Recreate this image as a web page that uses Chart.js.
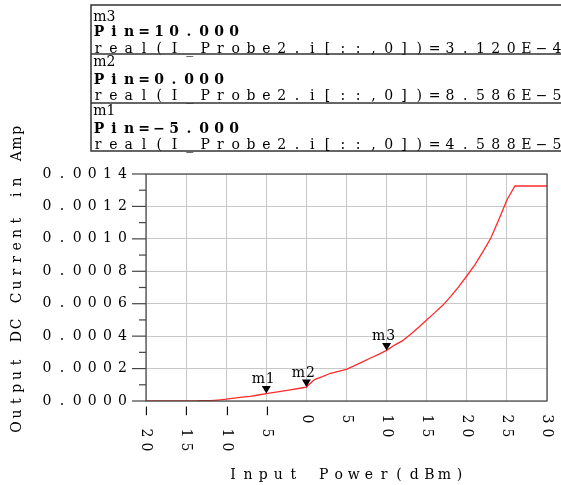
<!DOCTYPE html>
<html>
<head>
<meta charset="utf-8">
<script src="https://cdn.jsdelivr.net/npm/chart.js@4/dist/chart.umd.min.js"></script>
<style>
  html, body { margin: 0; padding: 0; background: #fff; }
  #chart { display: block; }
</style>
</head>
<body>
<canvas id="chart" width="561" height="485"></canvas>
<script>
// Input power sweep (dBm) and the DC current (A)
const inputPower = [-20, -13, -12, -11, -10, -9, -8, -7, -6, -5, -4, -3, -2, -1, 0,
  1, 2, 3, 4, 5, 6, 7, 8, 9, 10, 11, 12, 13, 14, 15, 16, 17, 18, 19, 20,
  21, 22, 23, 24, 25, 26, 30];
const outputCurrent = [0, 0, 2e-6, 6e-6, 1.1e-5, 1.8e-5, 2.4e-5, 2.9e-5, 3.7e-5, 4.588e-5,
  5.3e-5, 6.1e-5, 6.9e-5, 7.7e-5, 8.586e-5,
  1.32e-4, 1.5e-4, 1.71e-4, 1.83e-4, 1.95e-4, 2.18e-4, 2.41e-4, 2.65e-4, 2.88e-4, 3.12e-4,
  3.45e-4, 3.72e-4, 4.12e-4, 4.55e-4, 5.0e-4, 5.45e-4, 5.9e-4, 6.45e-4, 7.05e-4, 7.71e-4,
  8.4e-4, 9.2e-4, 1.005e-3, 1.12e-3, 1.24e-3, 1.326e-3, 1.326e-3];

// short darker trace lying on the zero line
const offPower = [-13.5, -11.6];
const offCurrent = [0, 0];

// Markers
const markerNames = ['m1', 'm2', 'm3'];
const markerPower = [-5, 0, 10];
const markerCurrent = [4.588e-5, 8.586e-5, 3.120e-4];

const xTitle = 'Input Power(dBm)';
const yTitle = 'Output DC Current in Amp';

const FONT = '"DejaVu Serif", serif';

// show a real minus sign instead of a hyphen
function minus(s) {
  return s.replace(/-/g, '\u2212');
}

// Draw a string one char at a time at a fixed pitch (first char centred at x)
function drawSpaced(ctx, text, x, y, pitch) {
  ctx.textAlign = 'center';
  for (let i = 0; i < text.length; i++) {
    ctx.fillText(text[i], x + i * pitch, y);
  }
}

// Axis frame, ticks, labels, markers and the marker readout box
const decorPlugin = {
  id: 'decor',
  afterDatasetsDraw(chart) {
    const ctx = chart.ctx;
    const area = chart.chartArea;
    const xs = chart.scales.x;
    const ys = chart.scales.y;

    ctx.save();
    // frame
    ctx.strokeStyle = '#444';
    ctx.lineWidth = 1.2;
    ctx.strokeRect(area.left, area.top, area.right - area.left, area.bottom - area.top);

    // y ticks (major + minor) and labels
    ctx.fillStyle = '#000';
    ctx.font = '14px ' + FONT;
    ctx.textBaseline = 'middle';
    ys.ticks.forEach((t, i) => {
      const py = ys.getPixelForValue(t.value);
      ctx.beginPath();
      ctx.moveTo(area.left - 14, py);
      ctx.lineTo(area.left, py);
      ctx.stroke();
      drawSpaced(ctx, t.value.toFixed(4), 47, py, 15.1);
      if (i < ys.ticks.length - 1) {
        const mid = ys.getPixelForValue((t.value + ys.ticks[i + 1].value) / 2);
        ctx.beginPath();
        ctx.moveTo(area.left - 7, mid);
        ctx.lineTo(area.left, mid);
        ctx.stroke();
      }
    });

    // x tick labels, rotated clockwise
    xs.ticks.forEach(t => {
      const px = xs.getPixelForValue(t.value);
      const label = String(t.value);
      ctx.save();
      ctx.translate(px, 0);
      ctx.rotate(Math.PI / 2);
      ctx.textBaseline = 'middle';
      ctx.textAlign = 'center';
      if (label[0] === '-') {
        ctx.fillText('\u2212', 411, 0);
        drawSpaced(ctx, label.slice(1), 433, 0, 14);
      } else {
        drawSpaced(ctx, label, 419, 0, 14);
      }
      ctx.restore();
    });

    // axis titles
    drawSpaced(ctx, xTitle, 233, 475, 15.1);
    ctx.save();
    ctx.translate(17, 427);
    ctx.rotate(-Math.PI / 2);
    drawSpaced(ctx, yTitle, 0, 0, 12.9);
    ctx.restore();

    // markers on the curve
    markerNames.forEach((name, i) => {
      const px = xs.getPixelForValue(markerPower[i]);
      const py = ys.getPixelForValue(markerCurrent[i]);
      ctx.beginPath();
      ctx.moveTo(px, py);
      ctx.lineTo(px - 4.5, py - 7.5);
      ctx.lineTo(px + 4.5, py - 7.5);
      ctx.closePath();
      ctx.fill();
      drawSpaced(ctx, name, px - 8, py - 14, 12);
    });

    // readout box, top marker first
    const boxTop = 5, boxLeft = 91, rowH = 49;
    ctx.strokeStyle = '#333';
    ctx.lineWidth = 1.5;
    ctx.strokeRect(boxLeft, boxTop, 600, rowH * 3 - 1);
    for (let r = 0; r < 3; r++) {
      const i = markerNames.length - 1 - r;
      const top = boxTop + r * rowH;
      if (r > 0) {
        ctx.beginPath();
        ctx.moveTo(boxLeft, top);
        ctx.lineTo(561, top);
        ctx.stroke();
      }
      ctx.font = '14px ' + FONT;
      drawSpaced(ctx, markerNames[i], 100, top + 12 - (r > 0 ? 4 : 0), 11);
      ctx.font = 'bold 14px ' + FONT;
      drawSpaced(ctx, minus('Pin=' + markerPower[i].toFixed(3)), 99, top + 27 - (r > 0 ? 1 : 0), 15);
      ctx.font = '14px ' + FONT;
      const val = markerCurrent[i].toExponential(3).toUpperCase();
      drawSpaced(ctx, minus('real(I_Probe2.i[::,0])=' + val), 98, top + 44 - (r > 0 ? 2 : 0), 15.3);
    }
    ctx.restore();
  }
};

const ctx = document.getElementById('chart');
new Chart(ctx, {
  type: 'line',
  data: {
    datasets: [{
      data: inputPower.map((p, i) => ({ x: p, y: outputCurrent[i] })),
      borderColor: '#ff2a2a',
      borderWidth: 1.3,
      pointRadius: 0,
      tension: 0,
      fill: false
    }, {
      data: offPower.map((p, i) => ({ x: p, y: offCurrent[i] })),
      borderColor: '#a00000',
      borderWidth: 2,
      pointRadius: 0,
      fill: false
    }]
  },
  options: {
    responsive: false,
    animation: false,
    layout: { padding: { top: 174, right: 14, left: 0, bottom: 0 } },
    plugins: { legend: { display: false }, tooltip: { enabled: false } },
    scales: {
      x: {
        type: 'linear',
        min: -20,
        max: 30,
        ticks: { stepSize: 5, display: false },
        grid: { color: '#c8c8c8', lineWidth: 1, drawTicks: false },
        border: { display: false },
        afterFit(scale) { scale.height = 84; }
      },
      y: {
        min: 0,
        max: 0.0014,
        ticks: { stepSize: 0.0002, display: false },
        grid: { color: '#c8c8c8', lineWidth: 1, drawTicks: false },
        border: { display: false },
        afterFit(scale) { scale.width = 146; }
      }
    }
  },
  plugins: [decorPlugin]
});
</script>
</body>
</html>
